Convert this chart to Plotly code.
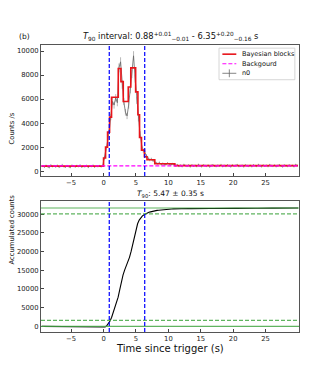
import numpy as np
import plotly.graph_objects as go
from plotly.subplots import make_subplots

# light curve of detector n0, 0.25 s bins starting at -9.5 s
bin_width = 0.25
t_first = -9.5
native_bin = 0.064  # detector resolution used for the error bars
rate_pre = [420, 350, 460, 380, 300, 510, 390, 440, 360, 470, 330, 410, 520, 380, 350, 440, 400, 310, 480,
            420, 360, 450, 390, 500, 340, 410, 370, 460, 320, 430, 400, 480, 350, 420, 390, 440, 370, 460]
rate_burst = [1100, 1800, 2500, 3400, 4500, 5800, 5500, 6100, 5700, 8600, 9100, 7200, 5800,
              4900, 4600, 5500, 6800, 8100, 9600, 7700, 5900, 4400, 3100, 2200, 1700, 1550]
rate_tail = [1250, 1080, 950, 1000, 880, 820, 680, 620, 700, 560, 630, 580, 540, 660, 590, 520, 600, 550]
rate_late = [460, 520, 410, 480, 390, 530, 450, 420, 490, 370, 510, 440, 470, 400, 540, 430, 380, 500, 460, 420,
             490, 350, 470, 510, 430, 400, 480, 440, 520, 390, 460, 410, 500, 450, 370, 490, 430, 470, 520, 400,
             440, 480, 360, 510, 450, 420, 470, 390, 500, 440, 410, 530, 460, 380, 490, 430, 470, 400, 520, 450,
             420, 480, 390, 460, 510, 430, 370, 490, 450, 410, 500, 440, 470, 380, 530, 460]

# bayesian blocks
block_edges = [-9.6, 0.0, 0.31, 0.62, 0.93, 1.23, 2.27, 2.68, 3.04, 3.81, 4.20, 4.95, 5.30, 5.55,
               5.85, 6.30, 6.70, 7.90, 11.0, 30.0]
block_rates = [420, 1100, 2000, 3250, 4500, 6150, 8550, 7450, 5800, 7000, 8600, 6600, 4700, 2800,
               1750, 1200, 950, 620, 460]

background = 440
t90_start, t90_stop = 0.88, 6.35

rate = np.array(rate_pre + rate_burst + rate_tail + rate_late, dtype=float)
t_mid = t_first + bin_width * (np.arange(len(rate)) + 0.5)
t_edge = t_first + bin_width * np.arange(len(rate) + 1)
rate_err = np.sqrt(rate * native_bin) / native_bin
accum = np.concatenate([[0.0], np.cumsum((rate - background) * bin_width)])
total = accum[-1]

FONT = "DejaVu Sans"
GREY = "#666666"
RED = "#e8141a"
MAGENTA = "#ff00ff"
GREEN = "#45a845"
BLUE = "#0000ff"
DASH = "4px,2px"

fig = make_subplots(rows=2, cols=1)

fig.add_trace(go.Scatter(
    x=t_mid, y=rate, mode="lines", showlegend=False,
    line=dict(color=GREY, width=0.8),
    error_y=dict(type="data", array=rate_err, color="#9a9a9a", thickness=0.7, width=0),
), row=1, col=1)
fig.add_trace(go.Scatter(
    x=block_edges, y=block_rates + [block_rates[-1]], mode="lines", line_shape="hv",
    showlegend=False, line=dict(color=RED, width=1.6),
), row=1, col=1)
fig.add_trace(go.Scatter(
    x=[-9.6, 30.0], y=[background, background], mode="lines", showlegend=False,
    line=dict(color=MAGENTA, width=1.2, dash=DASH),
), row=1, col=1)

# accumulated counts
fig.add_trace(go.Scatter(
    x=t_edge, y=accum, mode="lines", showlegend=False, line=dict(color="black", width=1.1),
), row=2, col=1)
for lvl, dash in [(0, "solid"), (total, "solid"), (0.05 * total, DASH), (0.95 * total, DASH)]:
    fig.add_hline(y=lvl, line=dict(color=GREEN, width=1.2, dash=dash), opacity=0.85, row=2, col=1)

for r in (1, 2):
    for tv in (t90_start, t90_stop):
        fig.add_vline(x=tv, line=dict(color=BLUE, width=1.2, dash=DASH), row=r, col=1)

axis_style = dict(
    showline=True, mirror=True, linecolor="#555555", linewidth=1.2, ticks="inside", ticklen=3,
    tickcolor="#444444", showgrid=False, zeroline=False, tickformat="d", automargin=False,
    tickfont=dict(size=6.8, color="#222"),
)
fig.update_xaxes(range=[-9.65, 30.15], tickvals=[-5, 0, 5, 10, 15, 20, 25], **axis_style)
fig.update_yaxes(**axis_style)
fig.update_layout(
    yaxis=dict(domain=[0.5436, 1.0], range=[-400, 10500], tickvals=list(range(0, 10001, 2000))),
    yaxis2=dict(domain=[0.0, 0.4564], range=[-1500, 33500], tickvals=list(range(0, 30001, 5000))),
)

# legend drawn by hand inside the upper panel
legend_rows = [("Bayesian blocks", RED, "solid", 1.6), ("Backgourd", MAGENTA, DASH, 1.2),
               ("n0", GREY, "solid", 0.8)]
fig.add_shape(type="rect", xref="x domain", yref="y domain", x0=0.69, x1=0.984, y0=0.735, y1=0.976,
              line=dict(color="#cccccc", width=0.8), fillcolor="white", layer="above")
for i, (label, col, dash, w) in enumerate(legend_rows):
    yy = 0.93 - 0.073 * i
    fig.add_shape(type="line", xref="x domain", yref="y domain", x0=0.703, x1=0.757, y0=yy, y1=yy,
                  line=dict(color=col, width=w, dash=dash), layer="above")
    fig.add_annotation(text=label, xref="x domain", yref="y domain", x=0.772, y=yy, xanchor="left",
                       yanchor="middle", showarrow=False, font=dict(family=FONT, size=6.5, color="#111"))
yy = 0.93 - 0.073 * 2
fig.add_shape(type="line", xref="x domain", yref="y domain", x0=0.73, x1=0.73, y0=yy - 0.03, y1=yy + 0.03,
              line=dict(color=GREY, width=0.8), layer="above")

fig.add_annotation(text="<i>T</i><sub>90</sub> interval: 0.88<sup>+0.01</sup><sub>−0.01</sub> - "
                        "6.35<sup>+0.20</sup><sub>−0.16</sub> s",
                   xref="paper", yref="paper", x=0.5, y=1.0, yanchor="bottom", yshift=1,
                   showarrow=False, font=dict(family=FONT, size=8.3, color="#111"))
fig.add_annotation(text="(b)", xref="paper", yref="paper", x=0, y=1.0, xanchor="left", xshift=-24,
                   yanchor="bottom", yshift=2, font=dict(family=FONT, size=7.5, color="#111"),
                   showarrow=False)
fig.add_annotation(text="<i>T</i><sub>90</sub>: 5.47 ± 0.35 s", xref="paper", yref="paper", x=0.5,
                   y=0.4564, yanchor="bottom", yshift=0, font=dict(family=FONT, size=7.5, color="#111"),
                   showarrow=False)
fig.add_annotation(text="Counts /s", textangle=-90, xref="paper", yref="paper", x=0, y=0.7718,
                   xanchor="center", xshift=-29, font=dict(family=FONT, size=6.8, color="#111"),
                   showarrow=False)
fig.add_annotation(text="Accumulated counts", textangle=-90, xref="paper", yref="paper", x=0, y=0.2282,
                   xanchor="center", xshift=-29, font=dict(family=FONT, size=6.8, color="#111"),
                   showarrow=False)
fig.add_annotation(text="Time since trigger (s)", xref="paper", yref="paper", x=0.5, y=0,
                   yanchor="top", yshift=-9, font=dict(family=FONT, size=10, color="#111"),
                   showarrow=False)

# the page puts the figure 8 px in from the corner, so the figure is 8 px smaller
fig.update_layout(
    width=324, height=372,
    margin=dict(l=33, r=33, t=37, b=48),
    paper_bgcolor="white", plot_bgcolor="white",
    font=dict(family=FONT, size=7, color="#111"),
    showlegend=False,
)

fig.write_html("out.html")
